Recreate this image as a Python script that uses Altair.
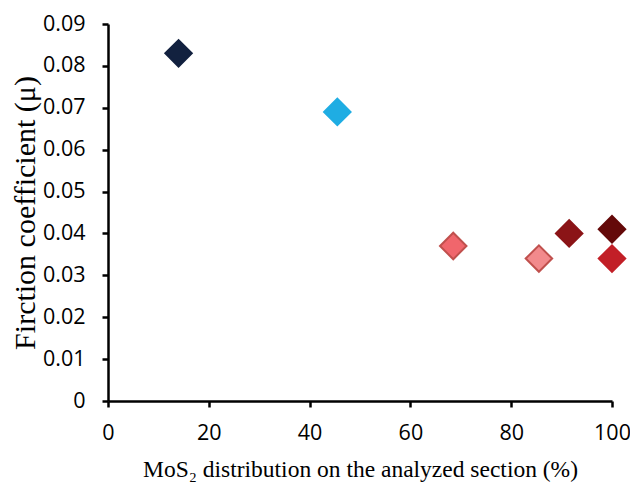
import altair as alt
import pandas as pd

mos2_pct = [14.0, 45.5, 68.5, 85.5, 91.5, 100.0, 100.0]
friction = [0.083, 0.069, 0.037, 0.034, 0.040, 0.041, 0.034]
fill_colors = ["#12213f", "#1fade3", "#f0666c", "#f28a8c", "#8b1417", "#640909", "#c21f27"]
stroke_colors = ["#12213f", "#1fade3", "#c0504d", "#c0504d", "#8b1417", "#640909", "#c21f27"]

df = pd.DataFrame({
    "x": mos2_pct,
    "y": friction,
    "fill": fill_colors,
    "stroke": stroke_colors,
})

chart = alt.Chart(df).mark_point(
    shape="diamond", size=700, filled=True, opacity=1, strokeWidth=2
).encode(
    x=alt.X("x:Q", scale=alt.Scale(domain=[0, 100], nice=False),
            axis=alt.Axis(values=[0, 20, 40, 60, 80, 100], labelFlush=False,
                          title="MoS₂ distribution on the analyzed section (%)")),
    y=alt.Y("y:Q", scale=alt.Scale(domain=[0, 0.09], nice=False),
            axis=alt.Axis(values=[0, 0.01, 0.02, 0.03, 0.04, 0.05, 0.06, 0.07, 0.08, 0.09],
                          labelFlush=False,
                          labelExpr="datum.value == 0 ? '0' : format(datum.value, '.2f')",
                          title="Firction coefficient (μ)")),
    fill=alt.Fill("fill:N", scale=None),
    stroke=alt.Stroke("stroke:N", scale=None),
).properties(
    width=504, height=377,
    autosize=alt.AutoSizeParams(type="none"),
    padding={"left": 100, "top": 16, "right": 18, "bottom": 83},
).configure_view(
    stroke=None
).configure_axis(
    grid=False,
    domainColor="#000000",
    domainWidth=2.5,
    tickColor="#000000",
    tickWidth=2.5,
    tickSize=6,
    labelFont="Open Sans",
    labelFontSize=21.5,
    labelColor="#000000",
    titleFont="Liberation Serif",
    titleFontWeight="normal",
    titleColor="#000000",
).configure_axisY(
    labelPadding=17,
    titlePadding=2,
    titleFontSize=30,
).configure_axisX(
    labelPadding=15,
    titlePadding=14,
    titleFontSize=23.5,
)

chart.save("out.html", embed_options={"renderer": "svg", "actions": False})
